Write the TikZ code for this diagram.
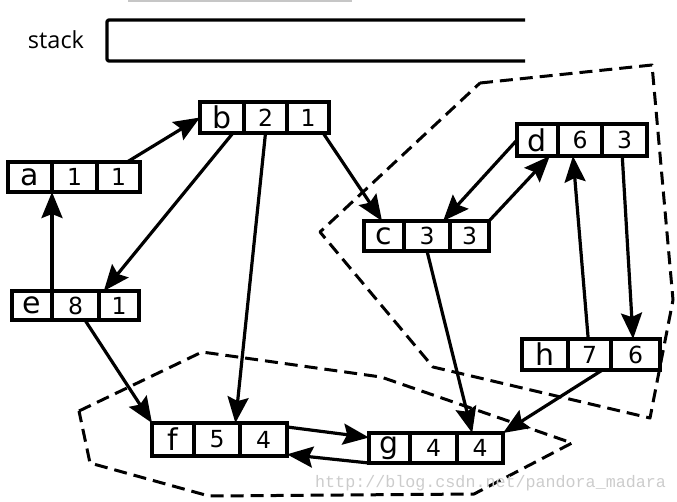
\documentclass[tikz,border=0pt]{standalone}
\usepackage{fontspec}
\setmainfont{DejaVu Sans}
\newfontfamily\stackfont{Open Sans}
\newfontfamily\wmfont{Liberation Mono}
\usetikzlibrary{calc,arrows.meta}
\tikzset{
  cell/.style={draw, line width=3.3pt, inner sep=0pt, outer sep=0pt, anchor=north west},
  lcell/.style={cell, font=\fontsize{30}{30}\selectfont},
  ncell/.style={cell, font=\fontsize{23.5}{23.5}\selectfont},
  edge/.style={line width=3.2pt, -{Stealth[length=26pt,width=21pt,inset=4pt]}},
  region/.style={line width=3pt, dash pattern=on 13pt off 7pt, line join=round},
  stackline/.style={line width=3.3pt, line join=round},
}
\newcommand\rec[8]{%
  \recb{#1}{#2}{#3}{#4}{#5}{#6}{#7}#8}
\newcommand\recb[9]{%
  \node[lcell, minimum width=#3-#2, minimum height=#7] (#11) at (#2,#6) {#8};
  \node[ncell, minimum width=#4-#3, minimum height=#7] (#12) at (#3,#6) {#9};
  \recc{#1}{#4}{#5}{#6}{#7}}
\newcommand\recc[6]{%
  \node[ncell, minimum width=#3-#2, minimum height=#5] (#13) at (#2,#4) {#6};}
\begin{document}
\begin{tikzpicture}[x=1pt,y=-1pt]
\useasboundingbox (0,0) rectangle (677,501);
% top grey bar
\draw[line width=2.5pt, gray!45] (128,1) -- (352,1);
% stack
\node[font=\stackfont\fontsize{23.5}{23.5}\selectfont, anchor=center] (stk) at (56,40) {stack};
\coordinate (stA) at (525,20);
\coordinate (stB) at (107,20);
\coordinate (stC) at (107,61);
\coordinate (stD) at (525,61);
\draw[stackline, rounded corners=2pt] (stA) -- (stB) -- (stC) -- (stD);
% dashed regions
\draw[region] (480,83) -- (652,65) -- (673,300) -- (650,418) -- (433,367) -- (320,232) -- cycle;
\draw[region] (79,411) -- (202,352) -- (381,377) -- (572,443) -- (474,494) -- (209,496) -- (90,463) -- cycle;
% records
\rec{a}{8}{52}{97}{140}{162}{30}{{a}{1}{1}}
\rec{b}{200}{244}{287}{329}{102}{31}{{b}{2}{1}}
\rec{c}{364}{404}{450}{489}{221}{30}{{c}{3}{3}}
\rec{d}{517}{558}{602}{647}{124}{32}{{d}{6}{3}}
\rec{e}{12}{52}{99}{139}{291}{29}{{e}{8}{1}}
\rec{f}{152}{194}{240}{287}{423}{33}{{f}{5}{4}}
\rec{g}{369}{410}{457}{503}{433}{30}{{g}{4}{4}}
\rec{h}{522}{568}{611}{660}{339}{31}{{h}{7}{6}}
% edges
\draw[edge] ($(a3.north west)!0.7!(a3.north east)$) -- (b1.west);
\draw[edge] (e2.north west) -- (a2.south west);
\draw[edge] ($(b1.south west)!0.75!(b1.south east)$) -- ($(e3.north west)!0.12!(e3.north east)$);
\draw[edge] (b2.south) -- ($(f2.north west)!0.9!(f2.north east)$);
\draw[edge] ($(b3.south west)!0.86!(b3.south east)$) -- ($(c1.north west)!0.45!(c1.north east)$);
\draw[edge] (d1.west) -- ($(c2.north west)!0.85!(c2.north east)$);
\draw[edge] (c3.north east) -- ($(d1.south west)!0.8!(d1.south east)$);
\draw[edge] (c2.south) -- ($(g3.north west)!0.33!(g3.north east)$);
\draw[edge] ($(d3.south west)!0.45!(d3.south east)$) -- ($(h3.north west)!0.45!(h3.north east)$);
\draw[edge] ($(h2.north west)!0.47!(h2.north east)$) -- ($(d2.south west)!0.34!(d2.south east)$);
\draw[edge] ($(h2.south west)!0.8!(h2.south east)$) -- (g3.north east);
\draw[edge] ($(e2.south west)!0.7!(e2.south east)$) -- (f1.north west);
\draw[edge] ($(f3.north east)!0.12!(f3.south east)$) -- ($(g1.north west)!0.15!(g1.south west)$);
\draw[edge] (g1.south west) -- ($(f3.north east)!0.95!(f3.south east)$);
% watermark
\node[font=\wmfont\fontsize{16.7}{16.7}\selectfont, text=gray!40, anchor=base west, inner sep=0pt] (wm) at (315,487) {http://blog.csdn.net/pandora\_madara};
\end{tikzpicture}
\end{document}
